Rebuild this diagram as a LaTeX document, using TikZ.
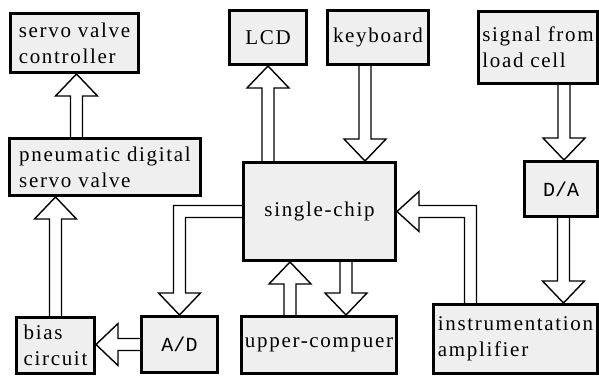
\documentclass[tikz,border=0pt]{standalone}
\usepackage{fontspec}
\setmainfont{Liberation Serif}[LetterSpace=8]
\newfontfamily\slabmono{Liberation Mono}
\usetikzlibrary{calc,backgrounds}

\definecolor{boxgray}{HTML}{EFEFEF}

\tikzset{
  blk/.style={draw=black, line width=3pt, fill=boxgray, inner sep=0pt,
    align=left, font=\fontsize{21}{26}\selectfont},
  blockarrow/.style={draw=black, line width=1.4pt, fill=white, line join=miter},
}

% vertical block arrow from #1 (shaft base) to #2 (tip)
\newcommand\vblock[2]{%
  \draw[blockarrow] let \p1=#1, \p2=#2, \n1={sign(\y2-\y1)} in
    ({\x1-6pt},\y1) -- ({\x1-6pt},{\y2-(\n1)*22pt}) -- ({\x1-21pt},{\y2-(\n1)*22pt})
    -- (\x1,\y2) -- ({\x1+21pt},{\y2-(\n1)*22pt}) -- ({\x1+6pt},{\y2-(\n1)*22pt})
    -- ({\x1+6pt},\y1);%
}
% horizontal block arrow from #1 (shaft base) to #2 (tip)
\newcommand\hblock[2]{%
  \draw[blockarrow] let \p1=#1, \p2=#2, \n1={sign(\x2-\x1)} in
    (\x1,{\y1+6pt}) -- ({\x2-(\n1)*22pt},{\y1+6pt}) -- ({\x2-(\n1)*22pt},{\y1+21pt})
    -- (\x2,\y1) -- ({\x2-(\n1)*22pt},{\y1-21pt}) -- ({\x2-(\n1)*22pt},{\y1-6pt})
    -- (\x1,{\y1-6pt});%
}

\begin{document}
\begin{tikzpicture}[x=1pt, y=-1pt]
  \useasboundingbox (0,0) rectangle (599,377);

  % blocks
  \node[blk, minimum width=128pt, minimum height=59pt] (ctrl)  at (74.5,43)   {servo valve\\controller};
  \node[blk, minimum width=191pt, minimum height=57pt] (pdsv)  at (105,167)   {pneumatic digital\\servo valve};
  \node[blk, minimum width=77pt,  minimum height=54pt] (lcd)   at (268,37.5)  {LCD};
  \node[blk, minimum width=101pt, minimum height=54pt] (kbd)   at (378,37.5)  {keyboard};
  \node[blk, minimum width=119pt, minimum height=72pt] (sig)   at (538,47.5)  {signal from\\load cell};
  \node[blk, minimum width=152pt, minimum height=98pt] (chip)  at (319.5,211.5) {single-chip};
  \node[blk, minimum width=73pt,  minimum height=55pt, font=\slabmono\fontsize{20}{24}\selectfont] (da) at (561,189) {D/A};
  \node[blk, minimum width=164pt, minimum height=69pt] (instr) at (515.5,339)  {instrumentation\\amplifier};
  \node[blk, minimum width=155pt, minimum height=57pt] (upc)   at (319,345)   {upper-compuer};
  \node[blk, minimum width=76pt,  minimum height=56pt, font=\slabmono\fontsize{20}{24}\selectfont] (ad) at (179.5,344.5) {A/D};
  \node[blk, minimum width=78pt,  minimum height=56pt] (bias)  at (55.5,345.5) {bias\\circuit};

  % reference points for the arrow shafts
  \coordinate (ctrlin) at ($(ctrl.south)+(2,0)$);
  \coordinate (kbdout) at ($(kbd.south)+(-13,0)$);
  \coordinate (dain)   at ($(da.north)+(3,0)$);
  \coordinate (daout)  at ($(da.south)+(2.5,0)$);
  \coordinate (upcout) at ($(upc.north)+(-29,0)$);
  \coordinate (upcin)  at ($(upc.north)+(27,0)$);
  \coordinate (bend)   at ($(instr.north west)+(38.5,0)$);

  \begin{scope}[on background layer]
    \fill[white] (0,0) rectangle (599,377);
    \vblock{(pdsv.north -| ctrlin)}{(ctrlin)}
    \vblock{(chip.north -| lcd.south)}{(lcd.south)}
    \vblock{(kbdout)}{(chip.north -| kbdout)}
    \vblock{(sig.south -| dain)}{(dain)}
    \vblock{(daout)}{(instr.north -| daout)}
    \vblock{(upcout)}{(chip.south -| upcout)}
    \vblock{(chip.south -| upcin)}{(upcin)}
    \vblock{(bias.north)}{(pdsv.south -| bias.north)}
    \hblock{(ad.west)}{(ad.west -| bias.east)}
    % single-chip to A/D, bent
    \draw[blockarrow] let \p1=(chip.west), \p2=(ad.north) in
      (\x1,{\y1+6pt}) -- ({\x2-6pt},{\y1+6pt}) -- ({\x2-6pt},{\y2+22pt})
      -- ({\x2-21pt},{\y2+22pt}) -- (\x2,\y2) -- ({\x2+21pt},{\y2+22pt})
      -- ({\x2+6pt},{\y2+22pt}) -- ({\x2+6pt},{\y1-6pt}) -- (\x1,{\y1-6pt});
    % instrumentation amplifier to single-chip, bent
    \draw[blockarrow] let \p1=(bend), \p2=(chip.east) in
      ({\x1-6pt},\y1) -- ({\x1-6pt},{\y2-6pt}) -- ({\x2+22pt},{\y2-6pt})
      -- ({\x2+22pt},{\y2-20pt}) -- (\x2,\y2) -- ({\x2+22pt},{\y2+20pt})
      -- ({\x2+22pt},{\y2+6pt}) -- ({\x1+6pt},{\y2+6pt}) -- ({\x1+6pt},\y1);
  \end{scope}
\end{tikzpicture}
\end{document}
